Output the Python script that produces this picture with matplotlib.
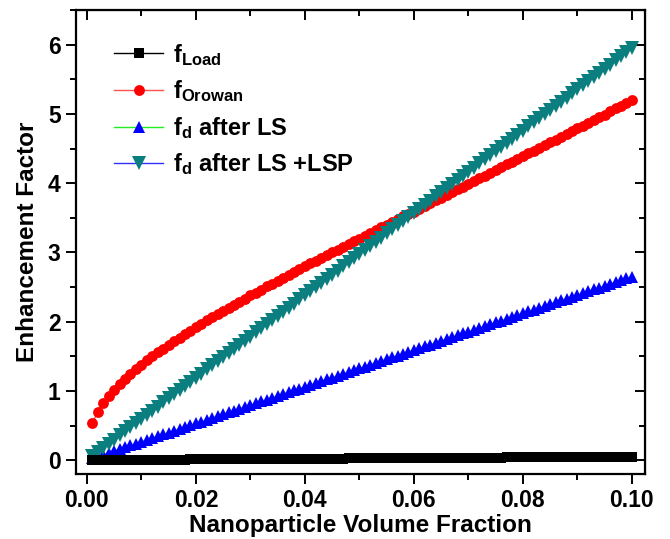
import numpy as np
import matplotlib
matplotlib.use("Agg")
import matplotlib.pyplot as plt
from matplotlib.ticker import MultipleLocator, FormatStrFormatter

plt.rcParams['font.family'] = ['Liberation Sans', 'DejaVu Sans']
plt.rcParams['font.weight'] = 'bold'
plt.rcParams['mathtext.fontset'] = 'custom'
plt.rcParams['mathtext.rm'] = 'Liberation Sans:bold'
plt.rcParams['mathtext.it'] = 'Liberation Sans:bold'
plt.rcParams['mathtext.bf'] = 'Liberation Sans:bold'
plt.rcParams['mathtext.default'] = 'bf'

# volume fraction
vf = [0.001, 0.002, 0.003, 0.004, 0.005, 0.006, 0.007, 0.008, 0.009, 0.010,
      0.011, 0.012, 0.013, 0.014, 0.015, 0.016, 0.017, 0.018, 0.019, 0.020,
      0.021, 0.022, 0.023, 0.024, 0.025, 0.026, 0.027, 0.028, 0.029, 0.030,
      0.031, 0.032, 0.033, 0.034, 0.035, 0.036, 0.037, 0.038, 0.039, 0.040,
      0.041, 0.042, 0.043, 0.044, 0.045, 0.046, 0.047, 0.048, 0.049, 0.050,
      0.051, 0.052, 0.053, 0.054, 0.055, 0.056, 0.057, 0.058, 0.059, 0.060,
      0.061, 0.062, 0.063, 0.064, 0.065, 0.066, 0.067, 0.068, 0.069, 0.070,
      0.071, 0.072, 0.073, 0.074, 0.075, 0.076, 0.077, 0.078, 0.079, 0.080,
      0.081, 0.082, 0.083, 0.084, 0.085, 0.086, 0.087, 0.088, 0.089, 0.090,
      0.091, 0.092, 0.093, 0.094, 0.095, 0.096, 0.097, 0.098, 0.099, 0.100]

f_load = [0.0005, 0.0010, 0.0015, 0.0020, 0.0025, 0.0030, 0.0035, 0.0040, 0.0045, 0.0050,
          0.0055, 0.0060, 0.0065, 0.0070, 0.0075, 0.0080, 0.0085, 0.0090, 0.0095, 0.0100,
          0.0105, 0.0110, 0.0115, 0.0120, 0.0125, 0.0130, 0.0135, 0.0140, 0.0145, 0.0150,
          0.0155, 0.0160, 0.0165, 0.0170, 0.0175, 0.0180, 0.0185, 0.0190, 0.0195, 0.0200,
          0.0205, 0.0210, 0.0215, 0.0220, 0.0225, 0.0230, 0.0235, 0.0240, 0.0245, 0.0250,
          0.0255, 0.0260, 0.0265, 0.0270, 0.0275, 0.0280, 0.0285, 0.0290, 0.0295, 0.0300,
          0.0305, 0.0310, 0.0315, 0.0320, 0.0325, 0.0330, 0.0335, 0.0340, 0.0345, 0.0350,
          0.0355, 0.0360, 0.0365, 0.0370, 0.0375, 0.0380, 0.0385, 0.0390, 0.0395, 0.0400,
          0.0405, 0.0410, 0.0415, 0.0420, 0.0425, 0.0430, 0.0435, 0.0440, 0.0445, 0.0450,
          0.0455, 0.0460, 0.0465, 0.0470, 0.0475, 0.0480, 0.0485, 0.0490, 0.0495, 0.0500]

f_orowan = [0.53, 0.70, 0.82, 0.92, 1.01, 1.10, 1.17, 1.24, 1.31, 1.38,
            1.44, 1.50, 1.56, 1.61, 1.67, 1.72, 1.77, 1.82, 1.87, 1.92,
            1.97, 2.02, 2.06, 2.11, 2.15, 2.20, 2.24, 2.29, 2.33, 2.38,
            2.42, 2.46, 2.51, 2.55, 2.59, 2.63, 2.67, 2.71, 2.76, 2.80,
            2.84, 2.88, 2.92, 2.96, 3.00, 3.04, 3.08, 3.12, 3.16, 3.20,
            3.24, 3.28, 3.32, 3.36, 3.40, 3.44, 3.48, 3.52, 3.56, 3.59,
            3.63, 3.67, 3.71, 3.75, 3.79, 3.83, 3.87, 3.91, 3.95, 3.99,
            4.03, 4.07, 4.11, 4.15, 4.19, 4.23, 4.27, 4.31, 4.35, 4.39,
            4.43, 4.47, 4.51, 4.55, 4.59, 4.63, 4.67, 4.71, 4.75, 4.79,
            4.83, 4.87, 4.91, 4.95, 4.99, 5.04, 5.08, 5.12, 5.16, 5.20]

f_ls = [0.027, 0.053, 0.080, 0.106, 0.133, 0.159, 0.186, 0.212, 0.239, 0.265,
        0.292, 0.318, 0.345, 0.371, 0.398, 0.424, 0.451, 0.477, 0.504, 0.530,
        0.557, 0.583, 0.610, 0.636, 0.663, 0.689, 0.716, 0.742, 0.769, 0.795,
        0.822, 0.848, 0.875, 0.901, 0.928, 0.954, 0.981, 1.007, 1.034, 1.060,
        1.087, 1.113, 1.140, 1.166, 1.193, 1.219, 1.246, 1.272, 1.299, 1.325,
        1.352, 1.378, 1.405, 1.431, 1.458, 1.484, 1.511, 1.537, 1.564, 1.590,
        1.617, 1.643, 1.670, 1.696, 1.723, 1.749, 1.776, 1.802, 1.829, 1.855,
        1.882, 1.908, 1.935, 1.961, 1.988, 2.014, 2.041, 2.067, 2.094, 2.120,
        2.147, 2.173, 2.200, 2.226, 2.253, 2.279, 2.306, 2.332, 2.359, 2.385,
        2.412, 2.438, 2.465, 2.491, 2.518, 2.544, 2.571, 2.597, 2.624, 2.650]

f_lsp = [0.060, 0.119, 0.179, 0.238, 0.298, 0.357, 0.417, 0.476, 0.536, 0.595,
         0.655, 0.714, 0.774, 0.833, 0.893, 0.952, 1.012, 1.071, 1.131, 1.190,
         1.250, 1.309, 1.369, 1.428, 1.488, 1.547, 1.607, 1.666, 1.726, 1.785,
         1.845, 1.904, 1.964, 2.023, 2.083, 2.142, 2.202, 2.261, 2.321, 2.380,
         2.440, 2.499, 2.559, 2.618, 2.678, 2.737, 2.797, 2.856, 2.916, 2.975,
         3.035, 3.094, 3.154, 3.213, 3.273, 3.332, 3.392, 3.451, 3.511, 3.570,
         3.630, 3.689, 3.749, 3.808, 3.868, 3.927, 3.987, 4.046, 4.106, 4.165,
         4.225, 4.284, 4.344, 4.403, 4.463, 4.522, 4.582, 4.641, 4.701, 4.760,
         4.820, 4.879, 4.939, 4.998, 5.058, 5.117, 5.177, 5.236, 5.296, 5.355,
         5.415, 5.474, 5.534, 5.593, 5.653, 5.712, 5.772, 5.831, 5.891, 5.950]

labels = [r'f$_{Load}$', r'f$_{Orowan}$', r'f$_d$ after LS', r'f$_d$ after LS +LSP']

fig = plt.figure(figsize=(6.7, 5.39), dpi=100)
ax = fig.add_axes([0.1134, 0.1206, 0.8493, 0.8608])

# lines (legend colours) sit under the markers
l2, = ax.plot(vf, f_orowan, '-', color='#ff5050', lw=1, marker='o', ms=7.8,
              mfc='red', mec='red', mew=0, label=labels[1])
l3, = ax.plot(vf, f_ls, '-', color='#22ee22', lw=1, marker='^', ms=9,
              mfc='#0000ff', mec='#0000ff', mew=0, label=labels[2])
l4, = ax.plot(vf, f_lsp, '-', color='#3030ff', lw=1, marker='v', ms=9.5,
              mfc='#0b7f7f', mec='#0b7f7f', mew=0, label=labels[3])
l1, = ax.plot(vf, f_load, '-', color='black', lw=1, marker='s', ms=7,
              mfc='black', mec='black', mew=0, label=labels[0])

ax.set_xlim(-0.002, 0.1024)
ax.set_ylim(-0.2, 6.5)
ax.xaxis.set_major_locator(MultipleLocator(0.02))
ax.xaxis.set_minor_locator(MultipleLocator(0.01))
ax.yaxis.set_major_locator(MultipleLocator(1))
ax.yaxis.set_minor_locator(MultipleLocator(0.5))
ax.xaxis.set_major_formatter(FormatStrFormatter('%.2f'))

for s in ax.spines.values():
    s.set_linewidth(1.6)
ax.tick_params(which='both', direction='out', width=1.4, labelsize=16.5, pad=4)
ax.tick_params(which='major', length=7)
ax.tick_params(which='minor', length=4)

# mirrored ticks on top / right pointing inward
ax2 = ax.secondary_xaxis('top')
ax2.xaxis.set_major_locator(MultipleLocator(0.02))
ax2.xaxis.set_minor_locator(MultipleLocator(0.01))
ax2.tick_params(which='both', direction='in', width=1.4)
ax2.tick_params(which='major', length=7)
ax2.tick_params(which='minor', length=4)
ax2.set_xticklabels([])
ax3 = ax.secondary_yaxis('right')
ax3.yaxis.set_major_locator(MultipleLocator(1))
ax3.yaxis.set_minor_locator(MultipleLocator(0.5))
ax3.tick_params(which='both', direction='in', width=1.4)
ax3.tick_params(which='major', length=7)
ax3.tick_params(which='minor', length=4)
ax3.set_yticklabels([])

ax.set_xlabel('Nanoparticle Volume Fraction', fontsize=17.5, fontweight='bold', labelpad=1)
ax.set_ylabel('Enhancement Factor', fontsize=17.5, fontweight='bold', labelpad=6)

leg = ax.legend(handles=[l1, l2, l3, l4], loc='upper left', bbox_to_anchor=(0.05, 0.952),
                frameon=False, fontsize=17, handlelength=2.1, handletextpad=0.42,
                labelspacing=0.45, borderaxespad=0)

fig.savefig('out.png', dpi=100)
